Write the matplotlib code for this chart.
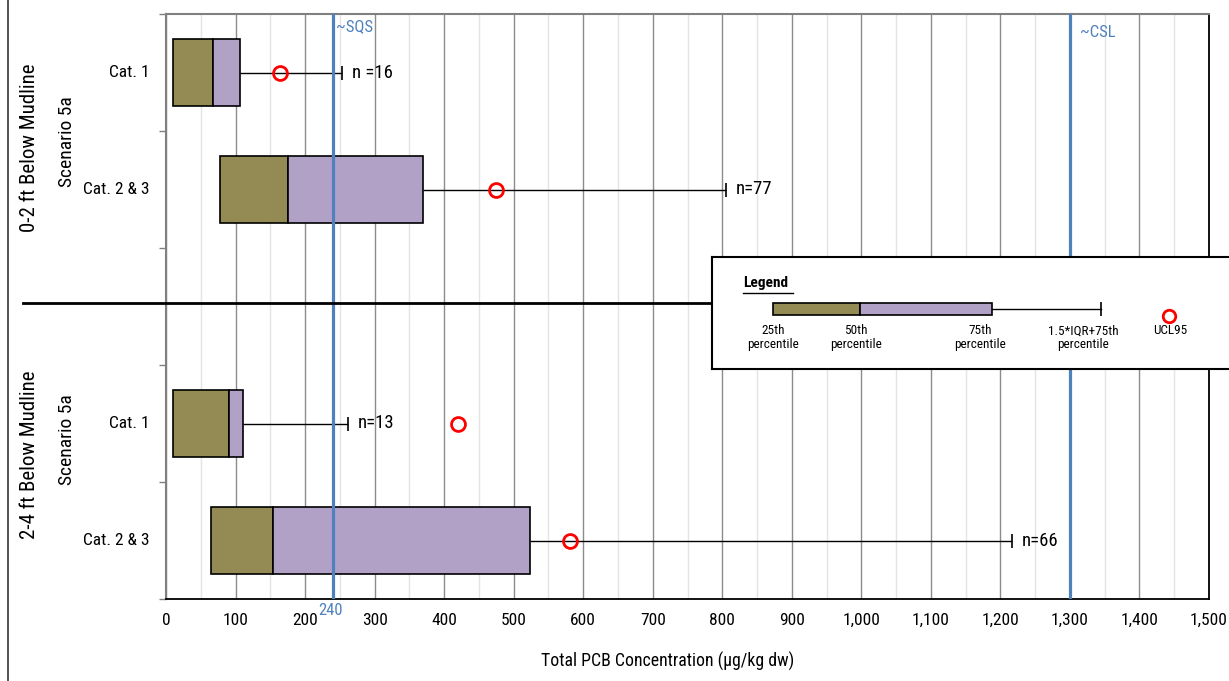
import matplotlib
matplotlib.use("Agg")
import matplotlib.pyplot as plt
from matplotlib import ticker
import matplotlib.transforms as mtransforms

plt.rcParams['font.family'] = ['Roboto Condensed', 'DejaVu Sans']

# data
depths = ['0-2 ft Below Mudline', '2-4 ft Below Mudline']
scenario = 'Scenario 5a'
categories = ['Cat. 1', 'Cat. 2 & 3', 'Cat. 1', 'Cat. 2 & 3']
rows = [0.5, 1.5, 3.5, 4.5]
p25 = [10, 78, 10, 64]
p50 = [68, 176, 90, 154]
p75 = [107, 370, 111, 524]
whisk = [253, 805, 262, 1217]
ucl95 = [164, 474, 420, 581]
n_labels = ['n =16', 'n=77', 'n=13', 'n=66']
sqs = 240
csl = 1300

olive = '#948a54'
lavender = '#b2a1c7'
blue = '#4f81bd'

W, H = 1229, 681
fig = plt.figure(figsize=(W / 100, H / 100), dpi=100)
ax = fig.add_axes([166 / W, 1 - 599 / H, 1043 / W, 585 / H])

ax.set_xlim(0, 1500)
ax.set_ylim(5, 0)
ax.set_xticks(range(0, 1501, 100))
ax.set_xticks(range(50, 1500, 100), minor=True)
ax.xaxis.set_major_formatter(ticker.FuncFormatter(lambda v, p: f'{int(v):,}'))
ax.tick_params(axis='x', which='both', length=0, labelsize=12.5, pad=10)
ax.set_yticks(range(0, 6))
ax.set_yticklabels([])
ax.tick_params(axis='y', length=5, color='#808080', width=1)
ax.grid(which='major', axis='x', color='#8c8c8c', lw=1)
ax.grid(which='minor', axis='x', color='#e4e4e4', lw=1)
ax.set_axisbelow(True)
for s in ['left', 'top']:
    ax.spines[s].set_color('#808080')
    ax.spines[s].set_linewidth(1.5)
for s in ['right', 'bottom']:
    ax.spines[s].set_color('black')
    ax.spines[s].set_linewidth(1.3)

lows = [b - a for a, b in zip(p25, p50)]
highs = [b - a for a, b in zip(p50, p75)]
ax.barh(rows, lows, left=p25, height=0.58, color=olive, edgecolor='black', lw=1.2, zorder=2)
ax.barh(rows, highs, left=p50, height=0.58, color=lavender, edgecolor='black', lw=1.2, zorder=2)
ax.hlines(rows, p75, whisk, color='black', lw=1, zorder=2)
ax.plot(whisk, rows, ls='none', marker='|', ms=10, mew=1.2, color='black', zorder=2)

ax.axvline(sqs, color=blue, lw=2.3, zorder=3)
ax.axvline(csl, color=blue, lw=2.3, zorder=3)
ax.plot(ucl95, rows, ls='none', marker='o', ms=10, mfc='none', mec='red', mew=2, zorder=4)

for x, y, t in zip(whisk, rows, n_labels):
    ax.annotate(t, (x, y), xytext=(7, 0), textcoords='offset points',
                va='center', ha='left', fontsize=13.5)
for y, c in zip(rows, categories):
    ax.annotate(c, (0, y), xycoords=('axes fraction', 'data'), xytext=(-12, 0),
                textcoords='offset points', ha='right', va='center', fontsize=12.5)

ax.annotate('~SQS', (sqs, 1), xycoords=('data', 'axes fraction'), xytext=(2, -4),
            textcoords='offset points', ha='left', va='top', color=blue, fontsize=12)
ax.annotate('~CSL', (csl, 1), xycoords=('data', 'axes fraction'), xytext=(7, -8),
            textcoords='offset points', ha='left', va='top', color=blue, fontsize=12)
ax.annotate(str(sqs), (sqs, 0), xycoords=('data', 'axes fraction'), xytext=(-2, -3),
            textcoords='offset points', ha='center', va='top', color=blue, fontsize=12)

ax.set_xlabel('Total PCB Concentration (µg/kg dw)', fontsize=12.8, labelpad=17)
ax.xaxis.label.set_x(0.481)

# group labels
fig.text(30 / W, 1 - 148 / H, depths[0], rotation=90, ha='center', va='center', fontsize=15)
fig.text(67 / W, 1 - 142 / H, scenario, rotation=90, ha='center', va='center', fontsize=14)
fig.text(30 / W, 1 - 455 / H, depths[1], rotation=90, ha='center', va='center', fontsize=15)
fig.text(67 / W, 1 - 440 / H, scenario, rotation=90, ha='center', va='center', fontsize=14)

# divider between depths and left frame line
tr = mtransforms.blended_transform_factory(fig.transFigure, ax.transData)
ax.plot([23 / W, 712 / W], [2.47, 2.47], transform=tr, color='black', lw=2, clip_on=False, zorder=5)
fig.add_artist(plt.Line2D([8 / W, 8 / W], [0, 1], color='#333333', lw=1.2))

# legend schematic
lg = fig.add_axes([712 / W, 1 - 369 / H, 540 / W, 112 / H], zorder=10)
lg.set_xlim(0, 1)
lg.set_ylim(0, 1)
lg.set_xticks([])
lg.set_yticks([])
for s in lg.spines.values():
    s.set_linewidth(1.5)
    s.set_color('black')
lg.text(0.057, 0.77, 'Legend', fontsize=11, fontweight='bold', ha='left', va='center')
lg.plot([0.057, 0.15], [0.68, 0.68], color='black', lw=1)
lg.barh([0.535], [0.274 - 0.113], left=[0.113], height=0.107, color=olive, edgecolor='black', lw=1.2)
lg.barh([0.535], [0.519 - 0.274], left=[0.274], height=0.107, color=lavender, edgecolor='black', lw=1.2)
lg.plot([0.519, 0.72], [0.535, 0.535], color='black', lw=1)
lg.plot([0.72], [0.535], marker='|', ms=10, mew=1.2, color='black')
lg.plot([0.846], [0.475], marker='o', ms=9, mfc='none', mec='red', mew=2)
key_x = [0.113, 0.267, 0.496, 0.687]
key_t = ['25th\npercentile', '50th\npercentile', '75th\npercentile', '1.5*IQR+75th\npercentile']
for x, t in zip(key_x, key_t):
    lg.text(x, 0.40, t, ha='center', va='top', fontsize=9.5, linespacing=1.1)
lg.text(0.848, 0.40, 'UCL95', ha='center', va='top', fontsize=9.5)

fig.savefig('out.png', dpi=100)
